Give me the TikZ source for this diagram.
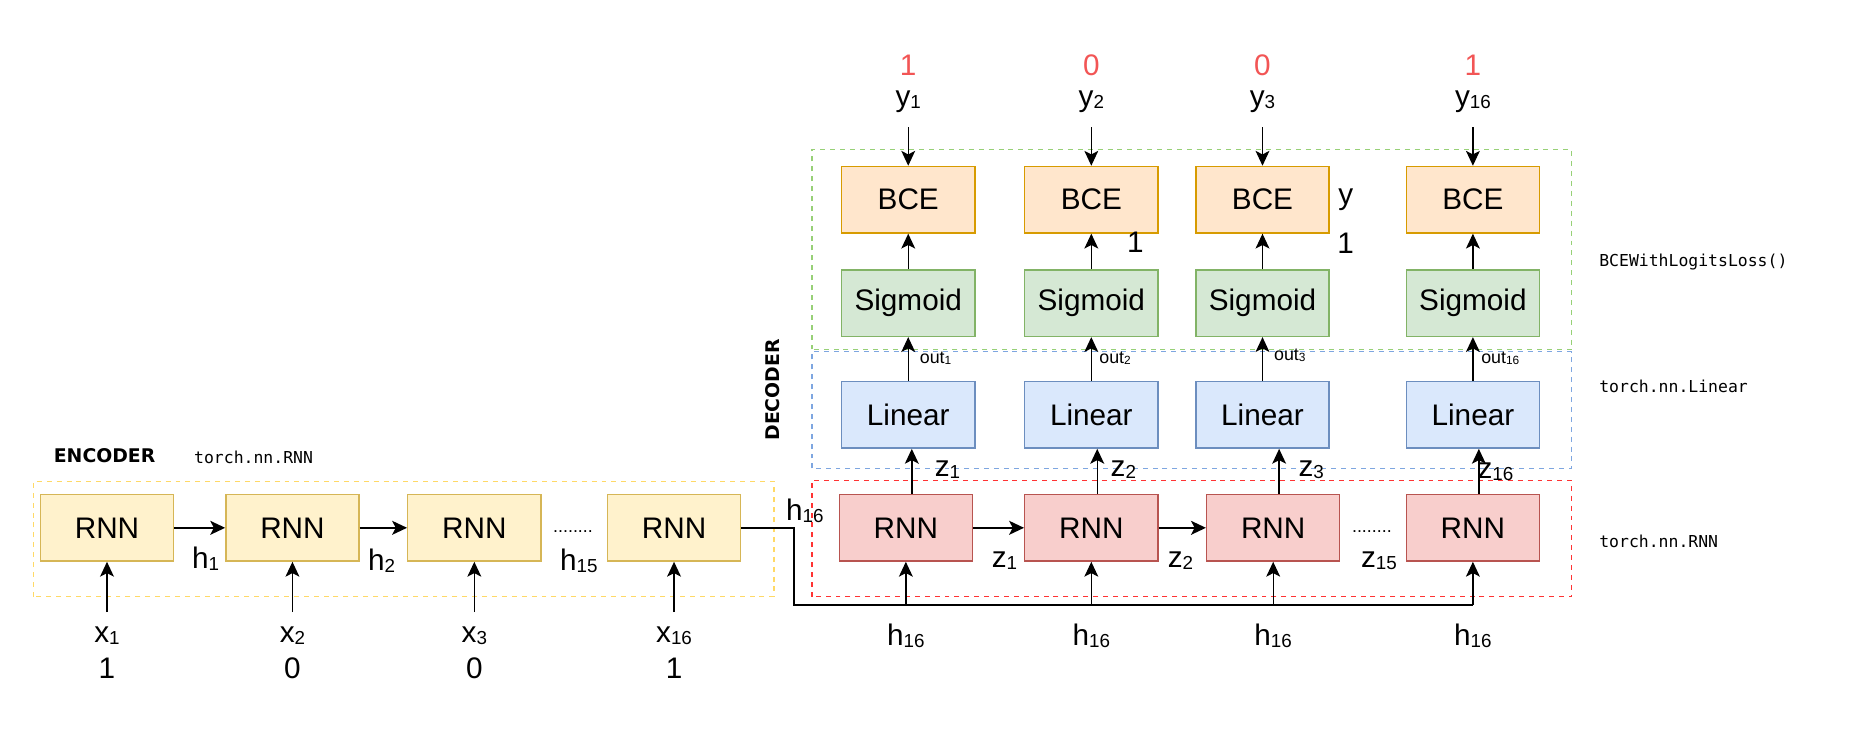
\documentclass[tikz,border=0pt]{standalone}
\usepackage{fontspec}
\setmainfont{Liberation Sans}
\newfontfamily\codefont{DejaVu Sans Mono}
\newfontfamily\titlefont{DejaVu Sans}
\usetikzlibrary{arrows.meta}

\definecolor{encfill}{HTML}{FFF2CC}
\definecolor{encline}{HTML}{D6B656}
\definecolor{rnnfill}{HTML}{F8CECC}
\definecolor{rnnline}{HTML}{B85450}
\definecolor{linfill}{HTML}{DAE8FC}
\definecolor{linline}{HTML}{6C8EBF}
\definecolor{sigfill}{HTML}{D5E8D4}
\definecolor{sigline}{HTML}{82B366}
\definecolor{bcefill}{HTML}{FFE6CC}
\definecolor{bceline}{HTML}{D79B00}
\definecolor{dashyellow}{HTML}{FFD966}
\definecolor{dashred}{HTML}{FF3333}
\definecolor{dashblue}{HTML}{7EA6E0}
\definecolor{dashgreen}{HTML}{97D077}
\definecolor{target}{HTML}{F25555}

% small index as draw.io sets it
\newcommand{\idx}[1]{\raisebox{-1pt}{\fontsize{9.5}{10}\selectfont #1}}

\tikzset{
    block/.style={draw, line width=0.7pt, minimum width=67.2pt, minimum height=33.6pt,
        inner sep=0pt, font=\fontsize{15}{18}\selectfont},
    encbox/.style={block, fill=encfill, draw=encline},
    rnnbox/.style={block, fill=rnnfill, draw=rnnline},
    linbox/.style={block, fill=linfill, draw=linline},
    sigbox/.style={block, fill=sigfill, draw=sigline},
    bcebox/.style={block, fill=bcefill, draw=bceline},
    lab/.style={inner sep=0pt, font=\fontsize{15}{18}\selectfont},
    small/.style={inner sep=0pt, font=\fontsize{9}{10}\selectfont},
    code/.style={inner sep=0pt, anchor=west, font=\codefont\fontsize{8.3}{10}\selectfont},
    group/.style={dash pattern=on 2.5pt off 2.5pt, line width=0.6pt},
    arr/.style={-{Stealth[length=7.5pt, width=7pt, inset=1.8pt]}, line width=0.7pt},
    harr/.style={-{Stealth[length=7.5pt, width=7pt, inset=1.8pt]}, line width=1.1pt},
}

\begin{document}
\begin{tikzpicture}[x=0.6pt, y=0.6pt]
    \useasboundingbox (0,0) rectangle (1568,617.4);

    % Groups
    \draw[group, dashyellow] (28,115.4) rectangle (651,212.4);
    \draw[group, dashred] (683,115.4) rectangle (1322,213.4);
    \draw[group, dashblue] (683,223.4) rectangle (1322,321.4);
    \draw[group, dashgreen] (683,323.4) rectangle (1322,491.4);

    % Titles
    \node[anchor=west, inner sep=0pt, font=\titlefont\bfseries\fontsize{9.5}{11}\selectfont] (enctitle) at (45,234.4) {ENCODER};
    \node[code] (encrnn) at (163,232.4) {torch.nn.RNN};
    \node[rotate=90, inner sep=0pt, font=\titlefont\bfseries\fontsize{9.5}{11}\selectfont] (dectitle) at (650,289.4) {DECODER};
    \node[code] (losstitle) at (1345,397.4) {BCEWithLogitsLoss()};
    \node[code] (lintitle) at (1345,292.4) {torch.nn.Linear};
    \node[code] (rnntitle) at (1345,162.4) {torch.nn.RNN};

    % Encoder
    \foreach \i/\x/\sub/\val in {1/90/1/1, 2/246/2/0, 3/399/3/0, 4/567/16/1} {
        \node[encbox] (enc\i) at (\x,173.4) {RNN};
        \node[lab] (xin\i) at (\x,82.4) {x\idx{\sub}};
        \node[lab] (xval\i) at (\x,55.4) {\val};
        \coordinate (xs\i) at (\x,102.4);
        \draw[arr] (xs\i) -- (enc\i.south);
    }
    \draw[harr] (enc1) -- (enc2);
    \draw[harr] (enc2) -- (enc3);
    \node[small] (encdots) at (482,170.4) {........};
    \node[lab] (h1) at (173,147.4) {h\idx{1}};
    \node[lab] (h2) at (321,145.4) {h\idx{2}};
    \node[lab] (h15) at (487,145.4) {h\idx{15}};
    \node[lab] (h16) at (677,187.4) {h\idx{16}};

    % Decoder
    \foreach \i/\x/\lx/\sub in {1/762/764/1, 2/918/918/2, 3/1071/1062/3, 4/1239/1239/16} {
        \node[rnnbox] (dec\i) at (\x,173.4) {RNN};
        \node[linbox] (lin\i) at (\lx,268.4) {Linear};
        \node[sigbox] (sig\i) at (\lx,362.4) {Sigmoid};
        \node[bcebox] (bce\i) at (\lx,449.4) {BCE};
        \node[lab] (hin\i) at (\x,82.4) {h\idx{16}};
        \node[lab] (yout\i) at (\lx,531.4) {y\idx{\sub}};
        \node[lab, text=target] (yval\i) at (\lx,562.4) {\ifnum\sub=1 1\else\ifnum\sub=16 1\else 0\fi\fi};
        \coordinate (ys\i) at (\lx,510.4);
        \draw[arr] ([xshift=3pt]dec\i.north) -- ([xshift=3pt]dec\i.north |- lin\i.south);
        \draw[arr] (lin\i) -- (sig\i);
        \draw[arr] (sig\i) -- (bce\i);
        \draw[arr, line width=0.6pt] (ys\i) -- (bce\i.north);
    }
    \draw[harr] (dec1) -- (dec2);
    \draw[harr] (dec2) -- (dec3);
    \node[small] (decdots) at (1154,170.4) {........};

    % h16 to every decoder step
    \coordinate (turn) at (668,108.4);
    \draw[line width=1.1pt] (enc4.east) -| (turn) -- (turn -| dec4);
    \foreach \i in {1,...,4}
        \draw[arr] (turn -| dec\i) -- (dec\i.south);

    % z and out labels
    \foreach \x/\y/\txt in {845/145.4/1, 993/145.4/2, 1160/145.4/15, 797/222.4/1, 945/222.4/2, 1103/222.4/3, 1258/220.4/16}
        \node[lab] at (\x,\y) {z\idx{\txt}};
    \foreach \x/\y/\txt in {787/316.4/1, 938/316.4/2, 1085/318.4/3, 1262/316.4/16}
        \node[small] at (\x,\y) {out\raisebox{-0.5pt}{\fontsize{6}{6}\selectfont\txt}};

    % stray text
    \node[lab] (stray1) at (955,413.4) {1};
    \node[lab] (strayy) at (1132,449.4) {y};
    \node[lab] (stray2) at (1132,412.4) {1};
\end{tikzpicture}
\end{document}
